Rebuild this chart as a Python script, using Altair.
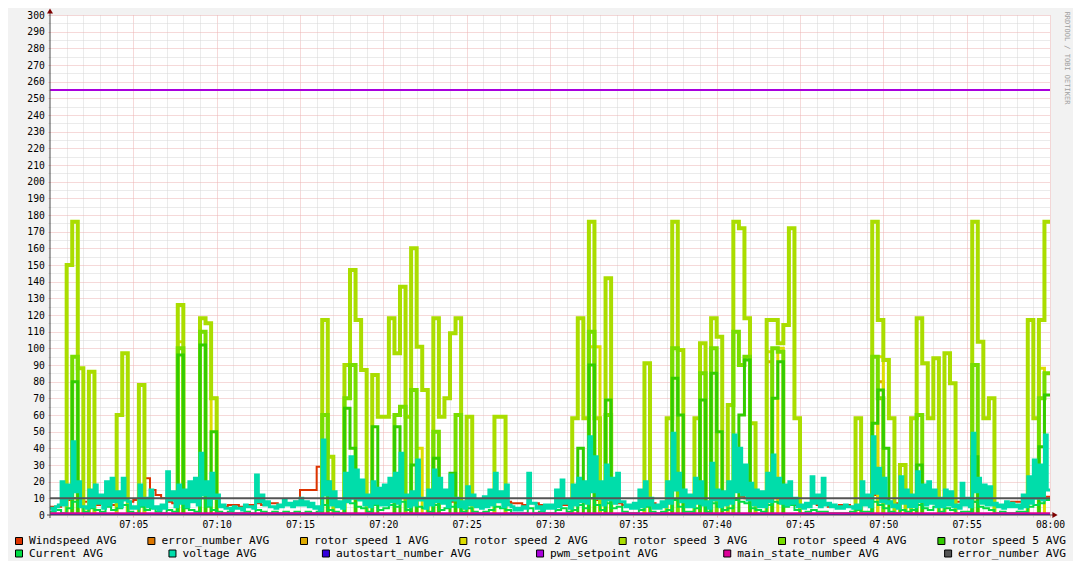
import altair as alt
import pandas as pd

FONT = "DejaVu Sans Mono"

# ---------------- data: averages from 07:00 to 08:00 -------------
# 20-second samples (180 per hour)
windspeed = [5, 5, 7, 9, 10, 9, 8, 7, 6, 7, 7, 6, 8, 10, 8,
             9, 12, 22, 15, 12, 10, 8, 7, 9, 10, 9, 13, 15, 14, 10,
             6, 5, 6, 6, 5, 6, 6, 7, 6, 7, 7, 6, 7, 7, 8,
             15, 15, 15, 29, 29, 20, 8, 6, 8, 11, 9, 10, 8, 9, 7,
             7, 8, 9, 10, 9, 8, 10, 9, 8, 9, 10, 9, 8, 9, 8,
             8, 7, 7, 8, 9, 10, 9, 8, 7, 7, 6, 7, 7, 6, 6,
             6, 7, 6, 6, 7, 8, 9, 10, 9, 8, 9, 8, 7, 6, 6,
             6, 7, 8, 7, 6, 6, 7, 9, 10, 8, 7, 8, 9, 8, 9,
             10, 9, 8, 10, 11, 10, 9, 8, 7, 9, 10, 9, 8, 7, 6,
             6, 6, 7, 6, 6, 5, 5, 6, 6, 5, 6, 7, 8, 12, 11,
             9, 8, 7, 8, 7, 7, 8, 9, 8, 7, 7, 8, 9, 8, 7,
             7, 8, 9, 8, 7, 6, 6, 7, 8, 8, 9, 10, 11, 12, 11]

rotor1 = [0] * 15 + [0] * 15 + [0] * 15 + [0] * 15 + [0] * 15 + [0] * 15 + [0] * 15 + \
         [0, 0, 0, 0, 0, 0, 0, 19, 0, 0, 0, 0, 0, 0, 0] + \
         [0, 0, 0, 0, 0, 0, 0, 0, 0, 92, 0, 0, 0, 0, 0] + \
         [0, 0, 0, 0, 0, 0, 0, 0, 0, 0, 0, 0, 0, 0, 80] + [0] * 15 + [0] * 15

rotor2 = [0] * 15 + \
         [0, 0, 0, 0, 0, 0, 0, 0, 104, 0, 0, 0, 0, 0, 70] + [0] * 15 + [0] * 15 + \
         [0, 0, 0, 0, 0, 0, 40, 0, 0, 0, 0, 0, 0, 0, 0] + [0] * 15 + \
         [0, 0, 0, 0, 0, 0, 0, 101, 101, 0, 0, 0, 0, 0, 0] + [0] * 15 + \
         [0, 0, 0, 0, 0, 0, 0, 0, 0, 98, 0, 100, 0, 0, 0] + \
         [0, 0, 0, 0, 0, 0, 0, 0, 0, 0, 0, 0, 0, 0, 95] + [0] * 15 + \
         [0, 0, 0, 0, 0, 0, 0, 0, 0, 0, 0, 0, 0, 88, 0]

rotor3 = [0, 0, 0, 150, 176, 88, 0, 86, 0, 0, 0, 0, 60, 97, 0,
          0, 78, 0, 0, 0, 0, 0, 0, 126, 0, 0, 0, 118, 115, 70,
          0, 0, 0, 0, 0, 0, 0, 0, 0, 0, 0, 0, 0, 0, 0,
          0, 0, 0, 0, 117, 35, 0, 0, 90, 147, 117, 87, 0, 84, 59,
          59, 118, 97, 137, 59, 160, 101, 75, 0, 118, 59, 70, 109, 118, 0,
          59, 0, 0, 0, 0, 59, 59, 0, 0, 0, 0, 0, 0, 0, 0,
          0, 0, 0, 0, 58, 118, 58, 176, 58, 0, 142, 0, 0, 0, 0,
          0, 0, 91, 0, 0, 0, 58, 176, 99, 0, 0, 58, 103, 0, 118,
          107, 0, 66, 176, 172, 118, 55, 0, 0, 117, 117, 103, 114, 172, 58,
          0, 0, 0, 0, 0, 0, 0, 0, 0, 0, 58, 0, 0, 176, 117,
          93, 58, 0, 30, 0, 58, 118, 91, 58, 94, 0, 97, 79, 0, 0,
          0, 176, 104, 58, 70, 0, 0, 0, 0, 0, 0, 117, 58, 117, 176]

rotor4 = [0, 0, 0, 0, 95, 0, 0, 0, 0, 0, 0, 0, 0, 0, 0,
          0, 0, 0, 0, 0, 0, 0, 0, 100, 0, 0, 0, 110, 0, 0,
          0, 0, 0, 0, 0, 0, 0, 0, 0, 0, 0, 0, 0, 0, 0,
          0, 0, 0, 0, 60, 0, 0, 0, 70, 90, 0, 0, 0, 0, 0,
          0, 0, 60, 65, 0, 75, 0, 0, 0, 50, 0, 0, 0, 60, 0,
          0, 0, 0, 0, 0, 0, 0, 0, 0, 0, 0, 0, 0, 0, 0,
          0, 0, 0, 0, 0, 0, 0, 110, 0, 0, 60, 0, 0, 0, 0,
          0, 0, 0, 0, 0, 0, 0, 100, 0, 0, 0, 0, 85, 0, 100,
          0, 0, 0, 110, 90, 95, 0, 0, 0, 0, 100, 98, 0, 0, 0,
          0, 0, 0, 0, 0, 0, 0, 0, 0, 0, 0, 0, 0, 95, 70,
          0, 0, 0, 0, 0, 0, 60, 0, 0, 0, 0, 0, 0, 0, 0,
          0, 90, 0, 0, 0, 0, 0, 0, 0, 0, 0, 0, 0, 70, 85]

rotor5 = [0, 0, 0, 0, 80, 0, 0, 0, 0, 0, 0, 0, 0, 0, 0,
          0, 0, 0, 0, 0, 0, 0, 0, 96, 0, 0, 0, 102, 0, 50,
          0, 0, 0, 0, 0, 0, 0, 0, 0, 0, 0, 0, 0, 0, 0,
          0, 0, 0, 0, 20, 0, 0, 0, 64, 40, 0, 0, 0, 53, 0,
          0, 0, 53, 0, 0, 30, 0, 0, 0, 34, 0, 0, 25, 0, 0,
          0, 0, 0, 0, 0, 0, 0, 0, 0, 0, 0, 0, 0, 0, 0,
          0, 0, 0, 0, 0, 40, 0, 90, 0, 0, 69, 0, 0, 0, 0,
          0, 0, 0, 0, 0, 0, 0, 82, 60, 0, 0, 0, 69, 0, 85,
          50, 0, 0, 0, 60, 93, 0, 0, 0, 0, 70, 92, 0, 0, 0,
          0, 0, 0, 0, 0, 0, 0, 0, 0, 0, 0, 0, 0, 55, 75,
          40, 0, 0, 0, 0, 0, 30, 0, 0, 0, 0, 0, 0, 0, 0,
          0, 35, 0, 0, 0, 0, 0, 0, 0, 0, 0, 0, 0, 41, 72]

current = [2, 3, 1, 4, 8, 5, 2, 4, 3, 2, 5, 3, 4, 6, 2,
           1, 5, 3, 4, 2, 1, 3, 2, 9, 4, 3, 2, 10, 5, 3,
           2, 1, 2, 1, 1, 2, 1, 3, 2, 1, 2, 1, 2, 1, 2,
           1, 2, 1, 2, 6, 3, 2, 1, 8, 7, 5, 4, 2, 6, 3,
           4, 6, 5, 8, 3, 7, 5, 4, 2, 6, 3, 4, 5, 6, 2,
           4, 2, 1, 2, 3, 5, 4, 3, 1, 1, 1, 4, 1, 2, 1,
           1, 3, 4, 2, 3, 6, 4, 10, 6, 3, 7, 4, 5, 2, 1,
           1, 3, 5, 2, 1, 2, 3, 9, 5, 2, 2, 4, 6, 2, 7,
           5, 3, 4, 9, 8, 7, 4, 3, 2, 6, 8, 7, 5, 6, 3,
           1, 2, 3, 2, 2, 1, 1, 1, 1, 2, 3, 2, 2, 8, 6,
           4, 2, 1, 3, 2, 3, 6, 4, 3, 5, 2, 4, 3, 1, 2,
           2, 8, 5, 4, 3, 1, 2, 1, 1, 2, 2, 5, 6, 7, 9]

# voltage: 10-second samples (360 per hour), one row per 5 minutes
voltage = [4, 3, 5, 6, 20, 6, 18, 10, 44, 14, 20, 5, 5, 4, 15, 5, 18, 7, 12, 4, 20, 6, 22, 8, 14, 5, 22, 9, 8, 4,
           5, 4, 18, 6, 10, 5, 15, 4, 5, 3, 6, 4, 26, 9, 14, 5, 18, 7, 15, 5, 20, 8, 22, 6, 37, 12, 20, 6, 25, 10,
           12, 5, 6, 4, 4, 3, 5, 4, 4, 3, 6, 5, 5, 4, 24, 8, 12, 6, 8, 5, 5, 4, 6, 5, 9, 6, 7, 5, 8, 6,
           10, 6, 8, 5, 7, 4, 5, 3, 45, 12, 20, 6, 14, 5, 8, 4, 25, 8, 35, 10, 27, 9, 21, 6, 12, 5, 20, 7, 16, 6,
           18, 6, 22, 8, 25, 7, 37, 11, 12, 5, 14, 6, 33, 9, 10, 4, 15, 6, 27, 8, 22, 7, 15, 5, 24, 9, 10, 5, 8, 4,
           17, 6, 12, 5, 9, 4, 11, 5, 15, 6, 25, 8, 14, 5, 18, 6, 5, 3, 4, 3, 5, 4, 25, 7, 7, 4, 5, 3, 6, 4,
           6, 4, 15, 5, 21, 7, 9, 4, 18, 6, 22, 8, 20, 7, 47, 14, 35, 10, 20, 6, 30, 9, 22, 7, 25, 8, 8, 5, 6, 4,
           7, 4, 15, 5, 20, 6, 10, 4, 6, 4, 8, 5, 20, 7, 49, 15, 25, 8, 15, 5, 12, 5, 22, 7, 20, 6, 8, 4, 31, 9,
           15, 5, 14, 6, 20, 7, 48, 14, 40, 12, 30, 9, 19, 6, 15, 5, 14, 5, 25, 8, 36, 11, 22, 7, 18, 6, 20, 7, 10, 5,
           6, 4, 7, 5, 23, 7, 12, 5, 22, 6, 7, 5, 6, 4, 5, 4, 6, 5, 5, 4, 6, 4, 20, 6, 12, 5, 47, 13, 28, 8,
           22, 7, 8, 5, 6, 4, 23, 7, 15, 5, 12, 5, 26, 8, 18, 6, 20, 7, 15, 5, 10, 5, 15, 6, 14, 5, 6, 4, 19, 6,
           10, 5, 49, 14, 22, 7, 18, 6, 17, 6, 7, 5, 6, 4, 8, 5, 7, 5, 6, 4, 12, 5, 23, 7, 33, 10, 30, 9, 48, 15]

# constant series
error_number_1 = 0
autostart_number = 0
pwm_setpoint = 255
main_state_number = 1
error_number_2 = 10

series_names = ["Windspeed AVG", "error_number AVG", "rotor speed 1 AVG",
                "rotor speed 2 AVG", "rotor speed 3 AVG", "rotor speed 4 AVG",
                "rotor speed 5 AVG", "Current AVG", "voltage AVG",
                "autostart_number AVG", "pwm_setpoint AVG",
                "main_state_number AVG", "error_number AVG"]
series_colors = ["#DD3300", "#DD7700", "#DDAA00", "#DDDD00", "#AADD00",
                 "#77DD00", "#33CC00", "#00DD44", "#00DDAA", "#3300DD",
                 "#AA00DD", "#DD0099", "#555555"]
series_widths = [2, 2, 3, 3, 4, 4, 3, 2, 3, 2, 2, 2, 2]
series_values = [windspeed, [error_number_1], rotor1, rotor2, rotor3, rotor4,
                 rotor5, current, voltage, [autostart_number], [pwm_setpoint],
                 [main_state_number], [error_number_2]]


def frame(vals):
    if len(vals) == 1:
        return pd.DataFrame({"t": [0.0, 60.0], "v": [vals[0], vals[0]]})
    step = 60.0 / len(vals)  # minutes per sample
    t = [i * step for i in range(len(vals))] + [60.0]
    v = list(vals) + [vals[-1]]
    return pd.DataFrame({"t": t, "v": v})


MAJ = "#EDB2B2"
MIN = "#D6D6D6"

x_axis = alt.Axis(
    values=list(range(1, 61)), title=None, domain=False, grid=True,
    gridColor={"condition": {"test": "datum.value % 5 === 0", "value": MAJ}, "value": MIN},
    gridDash=[1, 1], gridWidth=1,
    ticks=True, tickSize=2,
    tickColor={"condition": {"test": "datum.value % 5 === 0", "value": MAJ}, "value": MIN},
    labelExpr="datum.value % 5 === 0 ? (datum.value === 60 ? '08:00' : '07:' + (datum.value < 10 ? '0' : '') + datum.value) : ''",
    labelFont=FONT, labelFontSize=9.7, labelColor="#000000", labelPadding=2,
    labelOverlap=False, labelFlush=False, labelBound=False, zindex=0)

y_axis = alt.Axis(
    values=list(range(0, 301, 5)), title=None, domain=False, grid=True,
    gridColor={"condition": {"test": "datum.value % 10 === 0", "value": MAJ}, "value": MIN},
    gridDash=[1, 1], gridWidth=1,
    ticks=True, tickSize=2,
    tickColor={"condition": {"test": "datum.value % 10 === 0", "value": MAJ}, "value": MIN},
    labelExpr="datum.value % 10 === 0 ? datum.label : ''",
    labelFont=FONT, labelFontSize=9.7, labelColor="#000000", labelPadding=3.7,
    labelOverlap=False, labelFlush=False, labelBound=False, zindex=0)

X = alt.X("t:Q", scale=alt.Scale(domain=[0, 60], nice=False, zero=False), axis=x_axis)
Y = alt.Y("v:Q", scale=alt.Scale(domain=[0, 300], nice=False), axis=y_axis)

layers = []
for vals, col, w in zip(series_values, series_colors, series_widths):
    layers.append(
        alt.Chart(frame(vals)).mark_line(
            color=col, strokeWidth=w, interpolate="step-after", clip=True
        ).encode(x=X, y=Y)
    )

dummy = pd.DataFrame({"a": [0]})
AXC = "#505050"
ARROW = "#7F0000"
layers.append(alt.Chart(dummy).mark_rule(color=AXC, strokeWidth=1).encode(
    x=alt.value(0), y=alt.value(-5), y2=alt.value(503)))
layers.append(alt.Chart(dummy).mark_rule(color=AXC, strokeWidth=1).encode(
    x=alt.value(-3), x2=alt.value(1004), y=alt.value(500)))
layers.append(alt.Chart(dummy).mark_point(shape="triangle-up", filled=True, size=36,
                                          color=ARROW, opacity=1).encode(
    x=alt.value(0), y=alt.value(-4)))
layers.append(alt.Chart(dummy).mark_point(shape="triangle-right", filled=True, size=36,
                                          color=ARROW, opacity=1).encode(
    x=alt.value(1005), y=alt.value(500)))

# watermark
layers.append(alt.Chart(dummy).mark_text(
    text="RRDTOOL / TOBI OETIKER", angle=90, font=FONT, fontSize=7,
    color="#A0A0A0", align="center", baseline="middle").encode(
    x=alt.value(1017), y=alt.value(43)))

# legend (two justified rows, like rrdtool)
LEG_FS = 11.2
CW = 0.602 * LEG_FS


def row_layout(labels, left=15.0, right=1066.0):
    widths = [14 + len(s) * CW for s in labels]
    gap = (right - left - sum(widths)) / (len(labels) - 1)
    xs, x = [], left
    for w in widths:
        xs.append(x)
        x += w + gap
    return xs


rows = [(series_names[:7], series_colors[:7], 526.0),
        (series_names[7:], series_colors[7:], 538.5)]
leg = []
for labels, cols, ypos in rows:
    for x0, lab, col in zip(row_layout(labels), labels, cols):
        leg.append({"label": lab, "color": col, "sx": x0 + 4 - 50,
                    "tx": x0 + 14 - 50, "ly": ypos})
leg_df = pd.DataFrame(leg)

layers.append(alt.Chart(leg_df).mark_square(size=49, filled=True, stroke="#000000",
                                            strokeWidth=1, opacity=1).encode(
    x=alt.X("sx:Q", scale=None), y=alt.Y("ly:Q", scale=None),
    fill=alt.Fill("color:N", scale=None)))
layers.append(alt.Chart(leg_df).mark_text(align="left", baseline="middle", font=FONT,
                                          fontSize=LEG_FS, color="#000000").encode(
    x=alt.X("tx:Q", scale=None), y=alt.Y("ly:Q", scale=None), text="label:N"))

chart = alt.layer(*layers).properties(
    width=1000, height=500,
    background="#F2F2F2",
    padding={"left": 42, "top": 7, "right": 23, "bottom": 46},
    autosize=alt.AutoSizeParams(type="none"),
).configure_view(fill="#FFFFFF", stroke="transparent")

chart.save("out.html", embed_options={"renderer": "svg", "actions": False})
